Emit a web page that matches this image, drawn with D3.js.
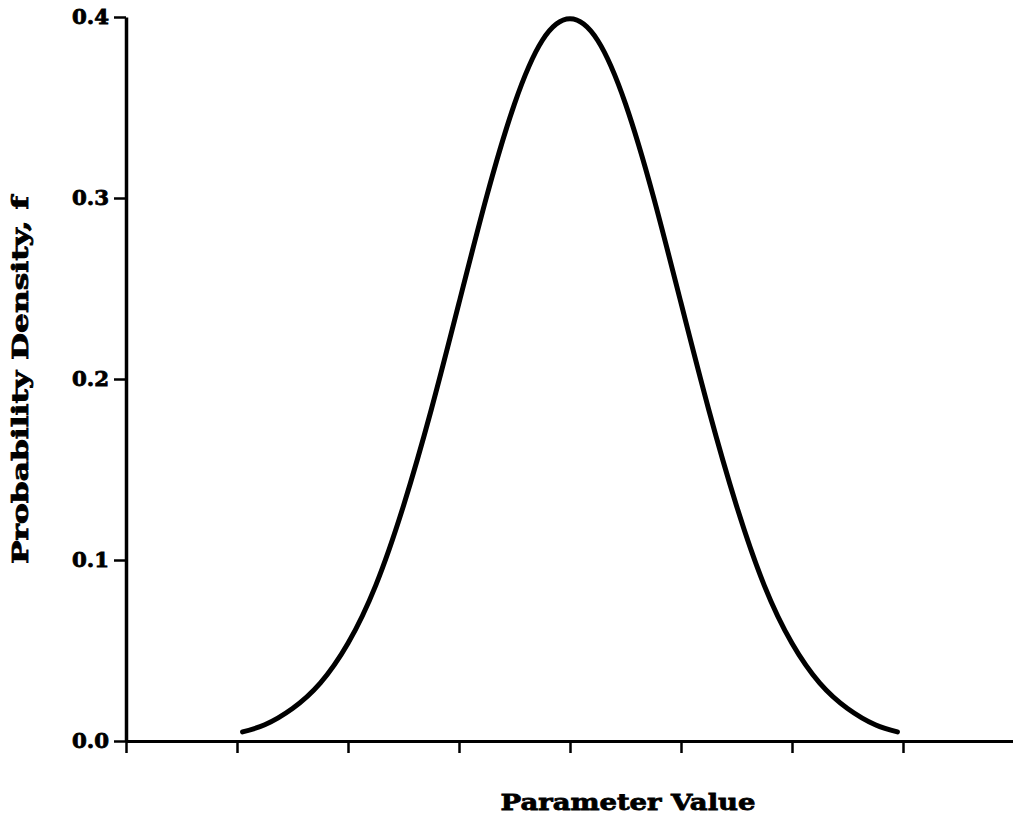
<!DOCTYPE html>
<html>
<head>
<meta charset="utf-8">
<script src="https://cdn.jsdelivr.net/npm/d3@7"></script>
<style>
  html, body { margin: 0; padding: 0; background: #fff; }
  svg { display: block; }
  text { font-family: "DejaVu Serif", serif; font-weight: bold; fill: #000; }
</style>
</head>
<body>
<svg id="chart" width="1013" height="827"></svg>
<script>
// Data (x in standard-deviation units, f = density)
const paramValues = [-2.95, -2.75, -2.5, -2.25, -2.0, -1.75, -1.5, -1.25, -1.0, -0.75, -0.5, -0.25, 0,
                      0.25, 0.5, 0.75, 1.0, 1.25, 1.5, 1.75, 2.0, 2.25, 2.5, 2.75, 2.95];
const densityValues = [0.005, 0.009, 0.018, 0.032, 0.054, 0.086, 0.130, 0.183, 0.242, 0.301, 0.352, 0.387, 0.399,
                       0.387, 0.352, 0.301, 0.242, 0.183, 0.130, 0.086, 0.054, 0.032, 0.018, 0.009, 0.005];
const xTickValues = [-4, -3, -2, -1, 0, 1, 2, 3];
const yTickValues = [0.0, 0.1, 0.2, 0.3, 0.4];
const xTitle = "Parameter Value";
const yTitle = "Probability Density, f";

const svg = d3.select("#chart");
const x = d3.scaleLinear().domain([-4, 4]).range([126, 1014]);
const y = d3.scaleLinear().domain([0, 0.4]).range([741, 17]);

// X axis
const gx = svg.append("g").attr("transform", `translate(0,${y(0)})`)
  .call(d3.axisBottom(x).tickValues(xTickValues).tickSize(12).tickSizeOuter(0).tickFormat(""));
gx.select(".domain").attr("stroke", "#000").attr("stroke-width", 3);
gx.selectAll(".tick line").attr("stroke", "#000").attr("stroke-width", 2.5);

// Y axis
const gy = svg.append("g").attr("transform", `translate(${x(-4)},0)`)
  .call(d3.axisLeft(y).tickValues(yTickValues).tickSize(12).tickSizeOuter(0).tickPadding(5)
    .tickFormat(d3.format(".1f")));
gy.select(".domain").attr("stroke", "#000").attr("stroke-width", 3.5);
gy.selectAll(".tick line").attr("stroke", "#000").attr("stroke-width", 2.5);
gy.selectAll(".tick text").style("font-size", "20px").style("font-family", "'DejaVu Serif', serif")
  .style("font-weight", "bold").attr("fill", "#000")
  .attr("stroke", "#000").attr("stroke-width", 0.8)
  .attr("textLength", 37).attr("lengthAdjust", "spacingAndGlyphs");

// Curve
const pts = paramValues.map((v, i) => [v, densityValues[i]]);
svg.append("path")
  .datum(pts)
  .attr("fill", "none")
  .attr("stroke", "#000")
  .attr("stroke-width", 5)
  .attr("stroke-linecap", "round")
  .attr("d", d3.line().x(d => x(d[0])).y(d => y(d[1])).curve(d3.curveNatural));

// Titles
svg.append("text")
  .attr("x", 628).attr("y", 810)
  .attr("text-anchor", "middle")
  .attr("textLength", 255).attr("lengthAdjust", "spacingAndGlyphs")
  .attr("stroke", "#000").attr("stroke-width", 0.8)
  .style("font-size", "23px")
  .text(xTitle);

svg.append("text")
  .attr("transform", "translate(28,380) rotate(-90)")
  .attr("text-anchor", "middle")
  .attr("textLength", 368).attr("lengthAdjust", "spacingAndGlyphs")
  .attr("stroke", "#000").attr("stroke-width", 0.8)
  .style("font-size", "23px")
  .text(yTitle);
</script>
</body>
</html>
